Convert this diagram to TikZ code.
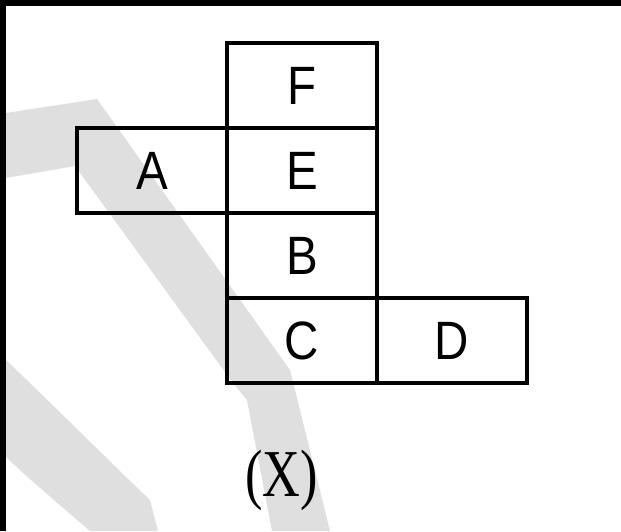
\documentclass[tikz,border=0pt]{standalone}
\usepackage{fontspec}
\setmainfont{Liberation Serif}
\newfontfamily\boxfont{Liberation Sans}
\definecolor{wm}{gray}{0.875}
\newcommand\facelbl[1]{\scalebox{0.88}[1]{#1}}
\begin{document}
\begin{tikzpicture}[x=1pt,y=-1pt,
  face/.style={draw=black, line width=4.5pt, minimum width=150pt, minimum height=85pt,
    inner sep=0pt, font=\boxfont\fontsize{54}{60}\selectfont},
  caption/.style={inner sep=0pt, font=\fontsize{67}{70}\selectfont}]
\useasboundingbox (0,0) rectangle (621,531);
\fill[white] (0,0) rectangle (621,531);
% watermark
\fill[wm] (6,113) -- (97,99) -- (290,370) -- (330,531) -- (272,531) -- (247,400)
  -- (233,383) -- (75,166) -- (6,178) -- cycle;
\fill[wm] (6,360) .. controls (50,402) and (110,462) .. (150,500) -- (158,531) -- (90,531)
  .. controls (60,505) and (30,480) .. (6,457) -- cycle;
% frame edges
\fill[black] (0,0) rectangle (621,6);
\fill[black] (0,0) rectangle (6,531);
% net
\node[face] (F) at (302,85.5) {\facelbl{F}};
\node[face] (E) at (302,170.5) {\facelbl{E}};
\node[face] (A) at (152,170.5) {\facelbl{A}};
\node[face] (B) at (302,255.5) {\facelbl{B}};
\node[face] (C) at (302,340.5) {\facelbl{C}};
\node[face] (D) at (452,340.5) {\facelbl{D}};
\node[caption] (X) at (281.5,480) {\scalebox{0.78}[1]{(X)}};
\end{tikzpicture}
\end{document}
